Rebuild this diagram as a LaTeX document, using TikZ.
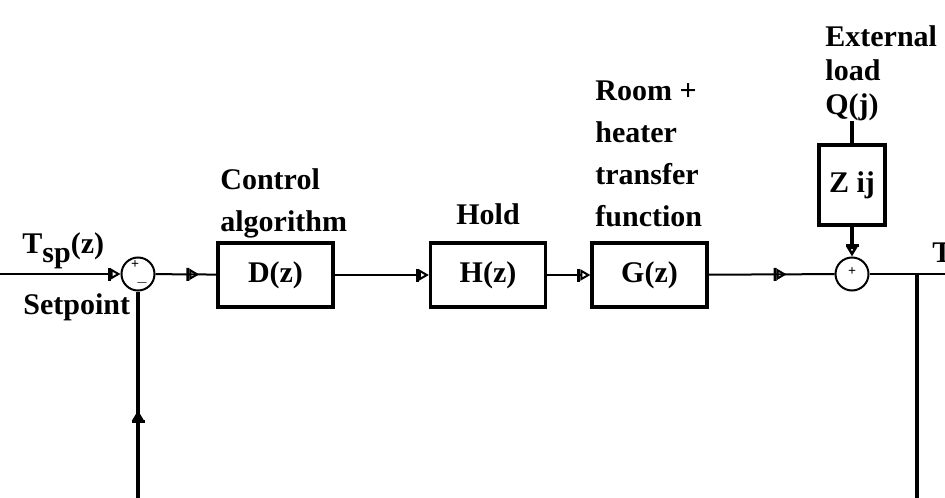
\documentclass[tikz,border=0pt]{standalone}
\usepackage{fontspec}
\setmainfont{Liberation Serif}
\usetikzlibrary{arrows.meta,positioning,decorations.markings}
\newcommand{\lblfont}{\fontsize{15}{21}\selectfont\bfseries}
\tikzset{
  flowtip/.tip={Bar[width=6.5pt,line width=1.5pt] Triangle[open,length=5pt,width=5.5pt]},
  wire/.style={line width=1pt},
  heavy/.style={line width=1.6pt},
  link/.style={wire, -{flowtip}},
  midlink/.style={postaction={decorate}, decoration={markings, mark=at position #1 with {\arrow{flowtip}}}},
  blk/.style={draw, line width=1.6pt, inner sep=0pt, minimum width=57.5pt, minimum height=32pt, font=\lblfont},
  sumj/.style={circle, draw, line width=1pt, minimum size=16.5pt, inner sep=0pt},
  sgn/.style={inner sep=0pt, font=\fontsize{7}{7}\selectfont\bfseries},
  lbl/.style={inner sep=0pt, align=left, font=\lblfont},
}

\begin{document}
\begin{tikzpicture}[x=0.5pt, y=-0.5pt]
  \useasboundingbox (0,0) rectangle (945,497);
  % blocks and junctions
  \node[sumj] (s1) at (138,274) {};
  \node[blk] (D) at (275.5,275) {D(z)};
  \node[blk] (H) at (488,275) {H(z)};
  \node[blk] (G) at (649.5,275) {G(z)};
  \node[sumj] (s2) at (852,274) {};
  \node[blk, minimum width=33pt, minimum height=40pt] (Z) at (852,185) {Z ij};
  \node[lbl] (Q) at (852,107) {Q(j)};
  \node[sgn] (p1) at (135,265) {+};
  \node[sgn] (m1) at (142,283) {$-$};
  \node[sgn] (p2) at (852,272) {+};
  % labels
  \node[lbl, anchor=north west] (tsp) at (22,232) {T\raisebox{-4.5pt}{sp}(z)};
  \node[lbl, anchor=north west] (setp) at (23,293) {Setpoint};
  \node[lbl, anchor=north west] (ctl) at (220,168) {Control\\algorithm};
  \node[lbl, anchor=base] (hold) at (488,224) {Hold};
  \node[lbl, anchor=north west] (room) at (595,80) {Room +\\heater\\transfer\\function};
  \node[lbl, anchor=north west, font=\fontsize{15}{17.2}\selectfont\bfseries] (ext) at (825,25) {External\\load};
  \node[lbl, anchor=north west] (tout) at (932,242) {T};
  % free ends
  \coordinate (in) at (0,274);
  \coordinate (out) at (945,274);
  \coordinate (tap) at (917,274);
  \coordinate (fbR) at (917,500);
  \coordinate (fbL) at (138,500);
  % connectors
  \draw[link] (in) -- (s1);
  \draw[wire, midlink=0.72] (s1) -- (D);
  \draw[link] (D) -- (H);
  \draw[link] (H) -- (G);
  \draw[wire, midlink=0.62] (G) -- (s2);
  \draw[heavy] (Q) -- (Z);
  \draw[heavy, -{flowtip}] (Z) -- (s2);
  \draw[wire] (s2) -- (out);
  \draw[heavy] (tap) -- (fbR);
  \draw[heavy, midlink=0.43] (fbL) -- (s1);
\end{tikzpicture}
\end{document}
